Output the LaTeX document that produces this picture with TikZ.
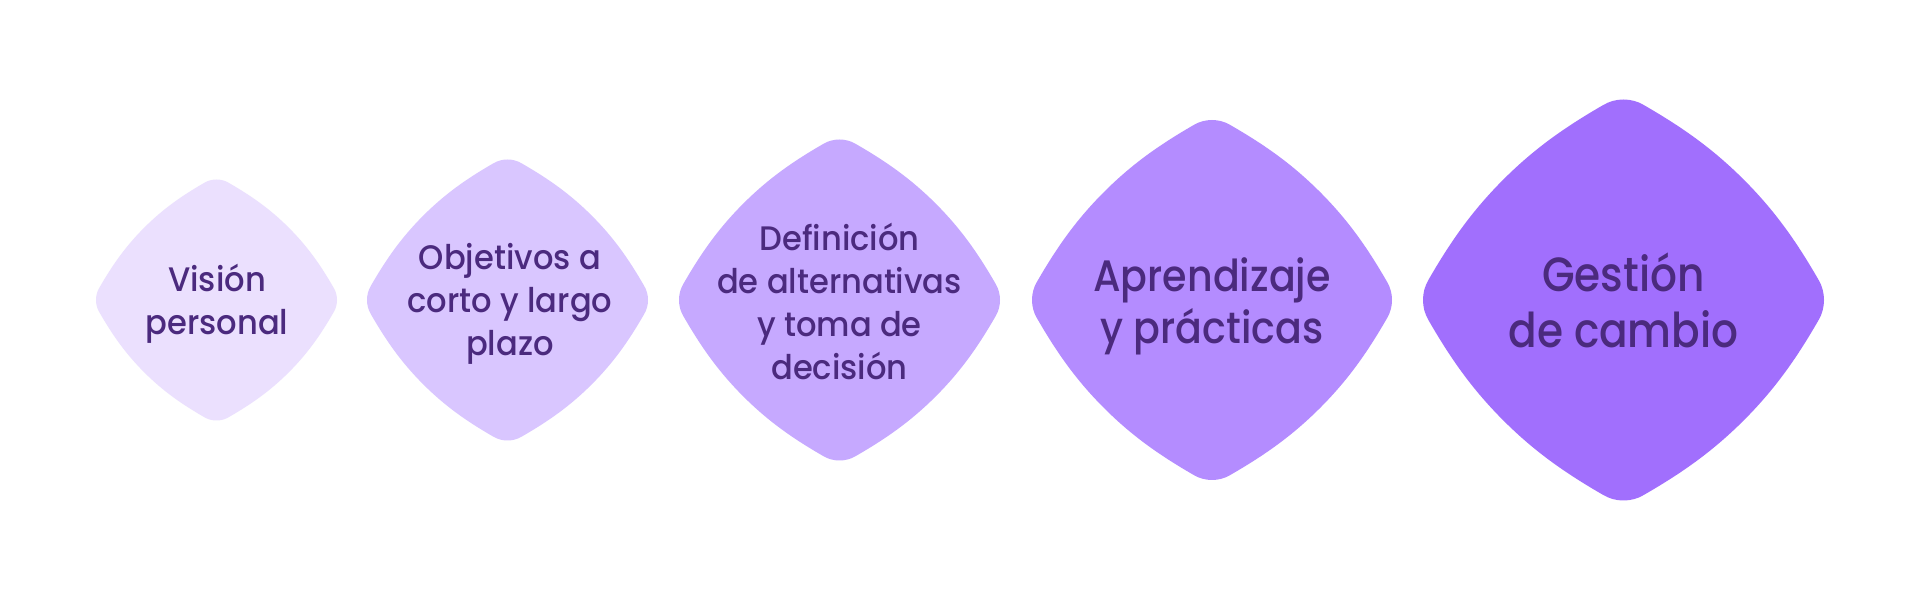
\documentclass[tikz,border=0pt]{standalone}
\usepackage{fontspec}
\setmainfont{Poppins}[UprightFont={* Medium}]
\newfontfamily\fsmall{Poppins}[UprightFont={* Medium}, FakeStretch=0.945]
\newfontfamily\fmid{Poppins}[UprightFont={* Medium}, FakeStretch=0.9]
\newfontfamily\fbig{Poppins}[UprightFont={* Medium}, FakeStretch=0.88]
\definecolor{cA}{HTML}{EBE0FE}
\definecolor{cB}{HTML}{D9C6FF}
\definecolor{cC}{HTML}{C6A9FF}
\definecolor{cD}{HTML}{B48CFF}
\definecolor{cE}{HTML}{A16FFD}
\definecolor{txt}{HTML}{4B2A7E}
\newcommand\blobpath{(0,1) .. controls (0.035,1) and (0.07,0.991) .. (0.1,0.973)
 .. controls (0.291,0.863) and (0.444,0.756) .. (0.6,0.6)
 .. controls (0.756,0.444) and (0.863,0.291) .. (0.973,0.1)
 .. controls (0.991,0.07) and (1,0.035) .. (1,0)
 .. controls (1,-0.035) and (0.991,-0.07) .. (0.973,-0.1)
 .. controls (0.863,-0.291) and (0.756,-0.444) .. (0.6,-0.6)
 .. controls (0.444,-0.756) and (0.291,-0.863) .. (0.1,-0.973)
 .. controls (0.07,-0.991) and (0.035,-1) .. (0,-1)
 .. controls (-0.035,-1) and (-0.07,-0.991) .. (-0.1,-0.973)
 .. controls (-0.291,-0.863) and (-0.444,-0.756) .. (-0.6,-0.6)
 .. controls (-0.756,-0.444) and (-0.863,-0.291) .. (-0.973,-0.1)
 .. controls (-0.991,-0.07) and (-1,-0.035) .. (-1,0)
 .. controls (-1,0.035) and (-0.991,0.07) .. (-0.973,0.1)
 .. controls (-0.863,0.291) and (-0.756,0.444) .. (-0.6,0.6)
 .. controls (-0.444,0.756) and (-0.291,0.863) .. (-0.1,0.973)
 .. controls (-0.07,0.991) and (-0.035,1) .. (0,1) -- cycle}
\newcommand\drawblob[3]{\begin{scope}[shift={(#1,300)},scale=#2]\fill[#3] \blobpath;\end{scope}}
\tikzset{
  lbl/.style={text=txt, align=center, inner sep=0pt},
  small/.style={lbl, font=\fsmall\fontsize{34}{43}\selectfont},
  mid/.style={lbl, font=\fmid\fontsize{44}{52}\selectfont},
  big/.style={lbl, font=\fbig\fontsize{48}{56}\selectfont}
}
\begin{document}
\begin{tikzpicture}[x=1pt,y=1pt]
\fill[white] (0,0) rectangle (1920,600);
\useasboundingbox (0,0) rectangle (1920,600);
\drawblob{216.5}{120.5}{cA}
\drawblob{507.5}{140.5}{cB}
\drawblob{839.5}{160.5}{cC}
\drawblob{1212}{180}{cD}
\drawblob{1623.5}{200.5}{cE}
\node[small] (t1) at (217,296.5) {Visión\\personal};
\node[small] (t2) at (510,296.5) {Objetivos a\\corto y largo\\plazo};
\node[small] (t3) at (839.5,299) {Definición\\de alternativas\\y toma de\\decisión};
\node[mid] (t4) at (1212,294) {Aprendizaje\\y prácticas};
\node[big] (t5) at (1623.5,300) {Gestión\\de cambio};
\end{tikzpicture}
\end{document}
